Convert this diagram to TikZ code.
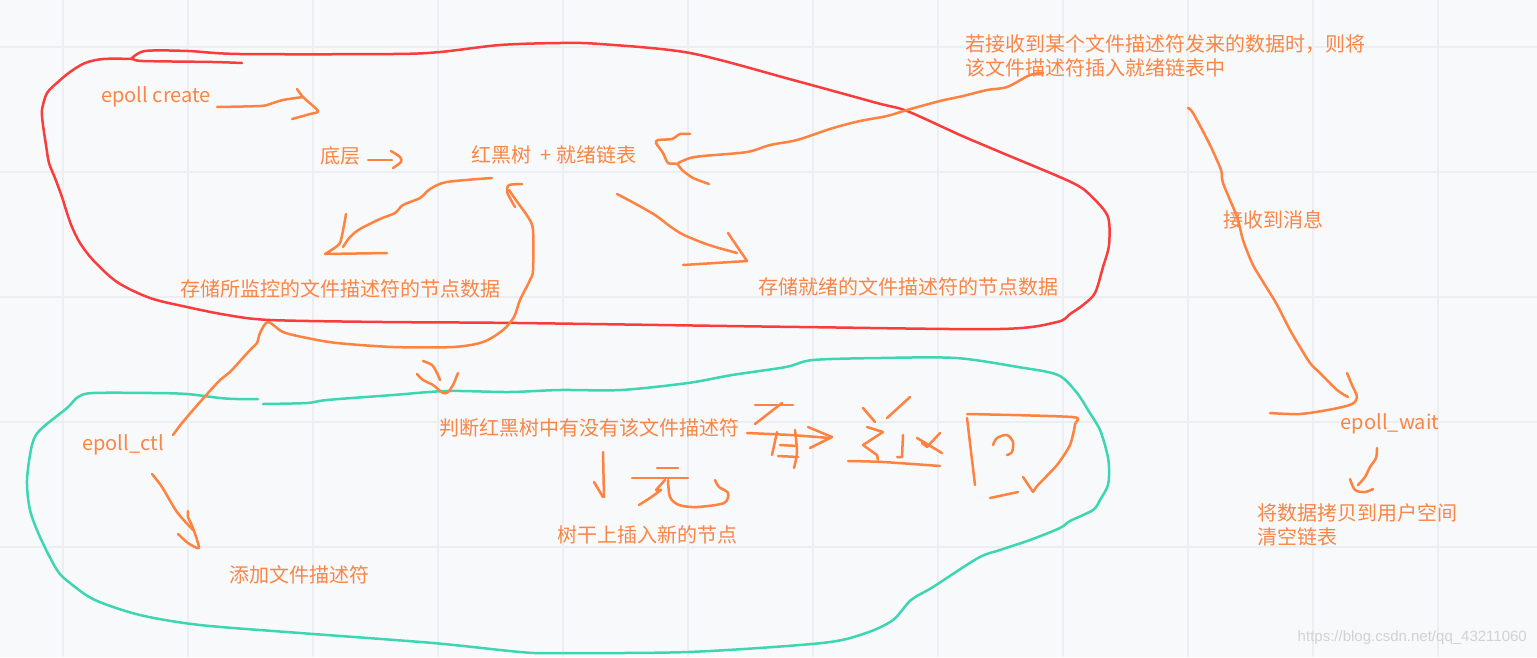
\documentclass[tikz,border=0pt]{standalone}
\usepackage{fontspec}
\setmainfont{Noto Sans CJK SC}
\newfontfamily\markfont{Liberation Sans}

\definecolor{bgcol}{HTML}{F8F9FB}
\definecolor{gridcol}{HTML}{ECEEF1}
\definecolor{penred}{HTML}{FA3C3C}
\definecolor{penorange}{HTML}{FF8241}
\definecolor{pencyan}{HTML}{3DD6B2}
\definecolor{txtorange}{HTML}{FA8545}

\begin{document}
\begin{tikzpicture}[x=1pt, y=-1pt,
    lbl/.style={text=txtorange, font=\fontsize{20}{24}\selectfont, inner sep=0pt},
    redpen/.style={draw=penred, line width=2.5pt, line cap=round, line join=round},
    orpen/.style={draw=penorange, line width=2.5pt, line cap=round, line join=round},
    cyanpen/.style={draw=pencyan, line width=2.5pt, line cap=round, line join=round}]

    % canvas with grid
    \fill[bgcol] (0,0) rectangle (1537,657);
    \useasboundingbox (0,0) rectangle (1537,657);
    \foreach \gx in {63,188,...,1438} \draw[gridcol, line width=1.5pt] (\gx,0) -- (\gx,657);
    \foreach \gy in {47,172,...,547} \draw[gridcol, line width=1.5pt] (0,\gy) -- (1537,\gy);

    % red loop (epoll create part)
    \draw[redpen] plot[smooth, tension=0.5] coordinates {(242,63) (213,62) (143,61) (131,59) (103,59) (85,63)
        (70,72) (58,82) (47,93) (42,110) (43,125) (46,145) (49,163) (55,178) (62,197) (67,213) (72,227)
        (80,243) (93,260) (117,282) (150,298) (187,307) (227,315) (270,320) (383,322) (518,323) (800,327)
        (1000,329) (1057,322) (1070,314) (1083,305) (1095,293) (1103,267) (1109,245) (1108,217) (1093,198)
        (1073,183) (1000,152) (960,135) (907,111) (877,103) (793,80) (690,53) (600,44) (560,43) (500,45)
        (440,52) (393,54) (240,54) (188,51) (145,51) (131,59)};

    % cyan loop (epoll_ctl part)
    \draw[cyanpen] plot[smooth, tension=0.5] coordinates {(263,404) (307,403) (327,400) (393,395) (447,391)
        (509,392) (560,390) (621,390) (688,383) (732,375) (786,367) (813,360) (880,358) (956,358) (1018,367)
        (1058,375) (1077,393) (1088,410) (1100,430) (1107,453) (1109,467) (1108,485) (1100,500) (1093,510)
        (1070,521) (1060,528) (1030,540) (1000,550) (978,558) (933,587) (911,600) (893,620) (866,633)
        (822,643) (688,652) (554,653) (520,652) (433,643) (300,633) (200,625) (140,615) (95,600) (70,583)
        (57,570) (40,537) (30,510) (27,480) (32,445) (40,430) (67,408) (78,397) (93,393) (153,393) (187,394)
        (220,398) (237,399) (258,399)};

    % labels
    \node[lbl] (create) at (156,97) {epoll create};
    \node[lbl] (base) at (340,156) {底层};
    \node[lbl] (rbtree) at (554,155) {红黑树\ \ + 就绪链表};
    \node[lbl] (watched) at (340,289) {存储所监控的文件描述符的节点数据};
    \node[lbl] (ready) at (908,287) {存储就绪的文件描述符的节点数据};
    \node[lbl, anchor=west, align=left] (incoming) at (965,56) {若接收到某个文件描述符发来的数据时，则将\\该文件描述符插入就绪链表中};
    \node[lbl] (recv) at (1273,220) {接收到消息};
    \node[lbl] (wait) at (1390,424) {epoll\_wait};
    \node[lbl, anchor=west, align=left] (copy) at (1257,525) {将数据拷贝到用户空间\\清空链表};
    \node[lbl] (ctl) at (123,445) {epoll\_ctl};
    \node[lbl] (add) at (299,575) {添加文件描述符};
    \node[lbl] (check) at (589,428) {判断红黑树中有没有该文件描述符};
    \node[lbl] (insert) at (647,535) {树干上插入新的节点};
    \node[font=\markfont\fontsize{15}{18}\selectfont, text=gray!35, anchor=east, inner sep=0pt] (mark) at (1527,638) {https://blog.csdn.net/qq\_43211060};

    % epoll create -> base
    \draw[orpen] plot[smooth, tension=0.5] coordinates {(217,107) (260,106) (270,104) (283,100) (303,97)};
    \draw[orpen] plot[smooth, tension=0.4] coordinates {(297,89) (303,97) (318,111) (310,114) (292,119)};

    % base -> rbtree
    \draw[orpen] (368,160) -- (392,160);
    \draw[orpen] plot[smooth, tension=0.5] coordinates {(391,151) (400,157) (401,162) (393,168)};

    % rbtree -> watched
    \draw[orpen] plot[smooth, tension=0.5] coordinates {(492,178) (447,182) (430,189) (420,198) (403,205)
        (395,213) (380,219) (360,229) (350,237) (343,247)};
    \draw[orpen] plot[smooth, tension=0.3] coordinates {(346,214) (340,243) (325,254)} -- (387,253);

    % rbtree -> ready
    \draw[orpen] plot[smooth, tension=0.5] coordinates {(617,194) (634,203) (655,215) (671,227) (684,235)
        (709,245) (737,253)};
    \draw[orpen] (728,233) -- (747,261) -- (683,265);

    % epoll_ctl -> rbtree
    \draw[orpen] plot[smooth, tension=0.5] coordinates {(173,435) (182,423) (200,402) (220,380) (230,372)
        (250,350) (257,343) (260,333) (268,322) (283,332) (307,338) (337,343) (393,347) (453,347) (483,342)
        (503,330) (514,317) (520,300) (530,280) (533,270) (533,230) (528,217) (518,203) (509,190)};
    \draw[orpen] plot[smooth, tension=0.4] coordinates {(522,184) (509,185) (507,192) (515,207)};

    % small arrow down to check
    \draw[orpen] plot[smooth, tension=0.5] coordinates {(423,361) (432,365) (437,373) (440,380)};
    \draw[orpen] plot[smooth, tension=0.5] coordinates {(417,374) (423,380) (433,385) (443,393) (448,392)
        (453,385) (458,373)};

    % epoll_ctl -> add
    \draw[orpen] plot[smooth, tension=0.5] coordinates {(152,474) (162,487) (177,512) (193,530)};
    \draw[orpen] plot[smooth, tension=0.4] coordinates {(188,511) (188,517) (193,528) (199,548) (188,543) (178,534)};

    % incoming -> rbtree
    \draw[orpen] plot[smooth, tension=0.5] coordinates {(1043,73) (1030,75) (1007,87) (987,90) (963,96)
        (940,101) (907,110) (887,116) (860,121) (833,128) (797,140) (770,145) (747,152) (703,156) (690,158)
        (678,163)};
    \draw[orpen] plot[smooth, tension=0.4] coordinates {(690,134) (680,134) (672,139) (658,140) (656,143)
        (663,153) (668,163) (677,164) (682,170) (693,178) (709,184)};

    % recv -> wait
    \draw[orpen] plot[smooth, tension=0.5] coordinates {(1188,108) (1193,113) (1209,143) (1221,170)
        (1223,183) (1237,217) (1243,240) (1252,263) (1260,277) (1276,303) (1290,330) (1300,347) (1310,363)
        (1320,373) (1337,390) (1348,397)};
    \draw[orpen] plot[smooth, tension=0.5] coordinates {(1347,373) (1352,385) (1357,397) (1352,404)
        (1333,409) (1300,414) (1270,413)};

    % wait -> copy
    \draw[orpen] plot[smooth, tension=0.5] coordinates {(1377,448) (1376,458) (1370,467) (1365,477) (1358,485)};
    \draw[orpen] plot[smooth, tension=0.5] coordinates {(1350,479) (1355,490) (1365,492) (1373,489)};

    % handwritten: found -> return
    \draw[orpen] (755,405) -- (793,405);
    \draw[orpen] (782,403) -- (755,424);
    \draw[orpen] plot[smooth, tension=0.5] coordinates {(747,433) (790,435) (830,438)};
    \draw[orpen] (808,427) -- (832,437) -- (810,448);
    \draw[orpen] (777,432) -- (772,455);
    \draw[orpen] plot[smooth, tension=0.5] coordinates {(795,430) (797,452) (794,468)};
    \draw[orpen] (780,445) -- (797,446);
    \draw[orpen] (778,456) -- (798,457);
    \draw[orpen] plot[smooth, tension=0.5] coordinates {(910,397) (898,408) (887,418)};
    \draw[orpen] (863,408) -- (875,422);
    \draw[orpen] (867,427) -- (883,432) -- (863,445) -- (877,455) -- (878,460);
    \draw[orpen] plot[smooth, tension=0.5] coordinates {(848,461) (883,462) (940,466)};
    \draw[orpen] (903,435) -- (902,457) -- (897,457);
    \draw[orpen] (917,438) -- (942,453);
    \draw[orpen] (940,433) -- (927,447) -- (922,443);
    \draw[orpen] (967,418) -- (975,485);
    \draw[orpen] plot[smooth, tension=0.4] coordinates {(967,414) (1072,417) (1075,424) (1070,445) (1057,465)
        (1038,485) (1033,492)};
    \draw[orpen] (1023,477) -- (1033,492);
    \draw[orpen] (990,498) -- (1018,492);
    \draw[orpen] plot[smooth, tension=0.5] coordinates {(993,445) (997,438) (1007,435) (1013,442) (1012,452)
        (1007,455)};

    % handwritten: down arrow and none
    \draw[orpen] (603,452) -- (604,497);
    \draw[orpen] (594,482) -- (603,497);
    \draw[orpen] (657,468) -- (678,468);
    \draw[orpen] (632,478) -- (688,478);
    \draw[orpen] (665,480) -- (656,490) -- (661,490) -- (650,498) -- (639,505);
    \draw[orpen] plot[smooth, tension=0.5] coordinates {(668,480) (670,497) (679,505) (697,507) (724,503)
        (728,493) (719,487) (715,480)};

\end{tikzpicture}
\end{document}
